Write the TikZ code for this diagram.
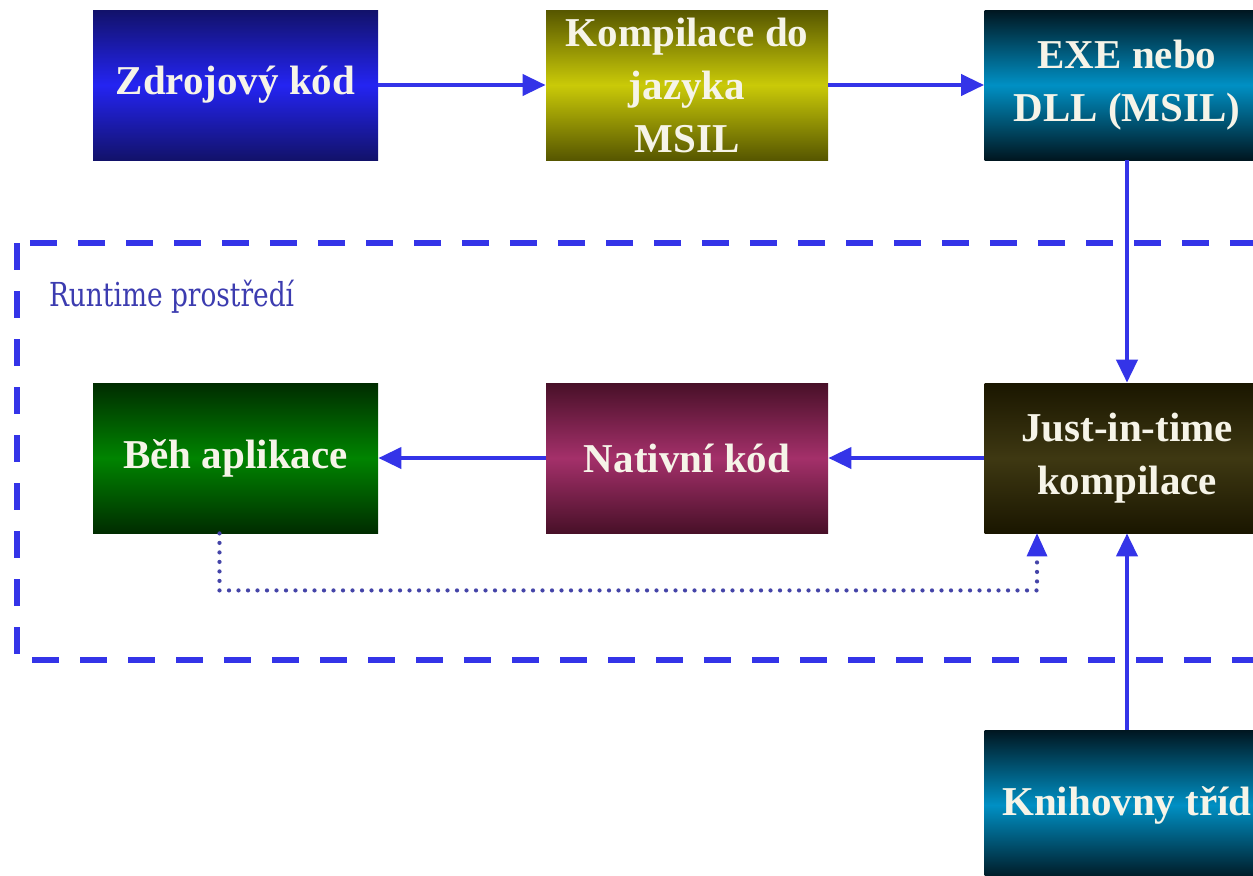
\documentclass[tikz,border=0pt]{standalone}
\usepackage{fontspec}
\setmainfont{Liberation Serif}
\newfontfamily\rtfont[FakeStretch=0.8]{DejaVu Serif}
\usetikzlibrary{arrows.meta}
\definecolor{arrowblue}{HTML}{3434E8}
\definecolor{dotblue}{HTML}{4444A8}
\definecolor{rtblue}{HTML}{3C3CB0}
\definecolor{boxtext}{HTML}{F6F4E8}
\definecolor{zdrE}{HTML}{12126A}\definecolor{zdrM}{HTML}{2424F2}
\definecolor{komE}{HTML}{565600}\definecolor{komM}{HTML}{CACA08}
\definecolor{exeE}{HTML}{001620}\definecolor{exeM}{HTML}{0090C4}
\definecolor{jitE}{HTML}{1A1600}\definecolor{jitM}{HTML}{3E3812}
\definecolor{behE}{HTML}{002C00}\definecolor{behM}{HTML}{008400}
\definecolor{natE}{HTML}{481028}\definecolor{natM}{HTML}{A4306A}
\tikzset{
  box/.style 2 args={rectangle, minimum width=142.5pt, minimum height=75pt,
    inner sep=0pt, text=boxtext, align=center,
    font=\bfseries\fontsize{20.5}{26.5}\selectfont,
    top color=#1, bottom color=#1, middle color=#2},
  flow/.style={draw=arrowblue, line width=2pt,
    -{Triangle[width=10.5pt,length=11.5pt]}},
  feedback/.style={draw=dotblue, line width=2.1pt, line cap=round,
    dash pattern=on 0pt off 4.75pt,
    -{Triangle[width=10.5pt,length=11.5pt,fill=arrowblue,line width=0pt]}},
  region/.style={draw=arrowblue, line width=3pt,
    dash pattern=on 13.5pt off 10.5pt}
}
\begin{document}
\begin{tikzpicture}[x=0.5pt,y=-0.5pt]
\clip (0,0) rectangle (1253,875);
\fill[white] (0,0) rectangle (1253,875);
% runtime region
\draw[region] (17,243) rectangle (1300,660);
\node[anchor=west, text=rtblue, font=\rtfont\fontsize{16.5}{18}\selectfont] (rt) at (42,297) {Runtime prostředí};
% boxes
\node[box={zdrE}{zdrM}] (zdr) at (235.5,85) {Zdrojový kód};
\node[box={komE}{komM}, minimum width=141pt] (kom) at (687,85) {Kompilace do\\jazyka\\MSIL};
\node[box={exeE}{exeM}] (exe) at (1127,85) {EXE nebo\\DLL (MSIL)};
\node[box={jitE}{jitM}] (jit) at (1127,458) {Just-in-time\\kompilace};
\node[box={natE}{natM}, minimum width=141pt] (nat) at (687,458) {Nativní kód};
\node[box={behE}{behM}] (beh) at (235.5,458) {Běh aplikace};
\node[box={exeE}{exeM}] (kni) at (1127,805) {Knihovny tříd};
% connectors
\draw[flow] (zdr) -- (kom);
\draw[flow] (kom) -- (exe);
\draw[flow] (exe) -- (jit);
\draw[flow] (jit) -- (nat);
\draw[flow] (nat) -- (beh);
\draw[flow] (kni) -- (jit);
\draw[feedback] ([xshift=-8pt]beh.south) -- ++(0,57) -| ([xshift=-45pt]jit.south);
\end{tikzpicture}
\end{document}
